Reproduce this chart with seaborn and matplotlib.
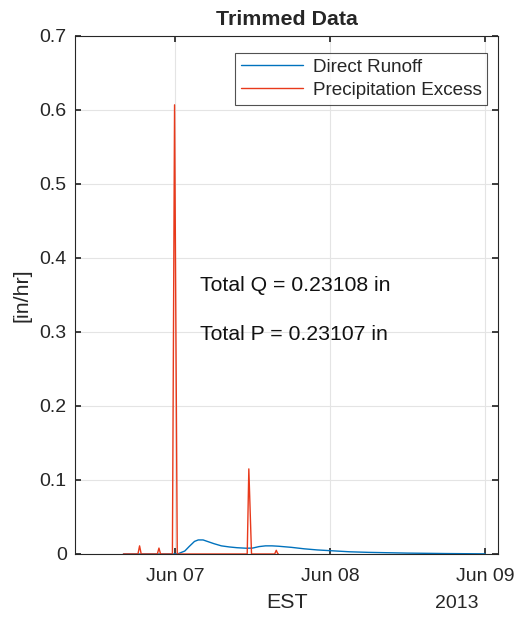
import pandas as pd
import matplotlib
matplotlib.use("Agg")
import matplotlib.pyplot as plt
import matplotlib.dates as mdates
import seaborn as sns

# Direct runoff (in/hr)
runoff_times = [
    "2013-06-06 16:00", "2013-06-06 23:59", "2013-06-07 00:30", "2013-06-07 01:30",
    "2013-06-07 02:10", "2013-06-07 03:00", "2013-06-07 03:35", "2013-06-07 04:20",
    "2013-06-07 05:00", "2013-06-07 06:00", "2013-06-07 07:10", "2013-06-07 08:25",
    "2013-06-07 09:35", "2013-06-07 11:00", "2013-06-07 12:00", "2013-06-07 13:00",
    "2013-06-07 14:00", "2013-06-07 15:00", "2013-06-07 16:00", "2013-06-07 18:00",
    "2013-06-07 20:00", "2013-06-07 22:00", "2013-06-08 00:00", "2013-06-08 03:00",
    "2013-06-08 06:00", "2013-06-08 12:00", "2013-06-08 18:00", "2013-06-09 00:00",
]
runoff_vals = [
    0.0, 0.0, 0.0005, 0.004,
    0.010, 0.017, 0.019, 0.019,
    0.017, 0.014, 0.011, 0.0095,
    0.0085, 0.0078, 0.008, 0.010,
    0.011, 0.011, 0.0105, 0.009,
    0.007, 0.0055, 0.0045, 0.003,
    0.0022, 0.0012, 0.0006, 0.0002,
]

# Precipitation excess (in/hr)
precip_times = [
    "2013-06-06 16:00", "2013-06-06 18:15", "2013-06-06 18:30", "2013-06-06 18:45",
    "2013-06-06 21:15", "2013-06-06 21:30", "2013-06-06 21:45", "2013-06-06 23:35",
    "2013-06-06 23:55", "2013-06-07 00:20", "2013-06-07 11:10", "2013-06-07 11:25",
    "2013-06-07 11:50", "2013-06-07 15:25", "2013-06-07 15:40", "2013-06-07 15:55",
    "2013-06-07 16:00",
]
precip_vals = [
    0.0, 0.0, 0.011, 0.0,
    0.0, 0.008, 0.0, 0.0,
    0.607, 0.0, 0.0, 0.115,
    0.0, 0.0, 0.005, 0.0,
    0.0,
]

total_q = "Total Q = 0.23108 in"
total_p = "Total P = 0.23107 in"

runoff = pd.DataFrame({"time": pd.to_datetime(runoff_times), "value": runoff_vals})
precip = pd.DataFrame({"time": pd.to_datetime(precip_times), "value": precip_vals})

sns.set_theme(style="ticks")
plt.rcParams["font.family"] = ["Liberation Sans", "DejaVu Sans"]

fig = plt.figure(figsize=(5.32, 6.17), dpi=100)
# axes box: x 75..498 px, y 36..554 px
ax = fig.add_axes([75 / 532, 1 - 554 / 617, 423 / 532, 518 / 617])

sns.lineplot(data=runoff, x="time", y="value", ax=ax, color="#0072BD",
             linewidth=1.0, label="Direct Runoff")
sns.lineplot(data=precip, x="time", y="value", ax=ax, color="#E8391B",
             linewidth=1.0, label="Precipitation Excess")

ax.set_xlim(pd.Timestamp("2013-06-06 08:30"), pd.Timestamp("2013-06-09 02:00"))
ax.set_ylim(0, 0.7)
ax.set_xticks(pd.to_datetime(["2013-06-07", "2013-06-08", "2013-06-09"]))
ax.xaxis.set_major_formatter(mdates.DateFormatter("%b %d"))
ax.set_yticks([0, 0.1, 0.2, 0.3, 0.4, 0.5, 0.6, 0.7])
ax.set_yticklabels(["0", "0.1", "0.2", "0.3", "0.4", "0.5", "0.6", "0.7"])
ax.tick_params(direction="in", length=4, labelsize=14, colors="#262626",
               top=True, right=True)
ax.tick_params(axis="x", pad=10)
ax.tick_params(axis="y", pad=6)
ax.grid(True, color="#e4e4e4", linewidth=0.8)
for s in ax.spines.values():
    s.set_color("#262626")
    s.set_linewidth(0.8)

ax.set_xlabel("")
ax.set_ylabel("[in/hr]", fontsize=15.4, color="#262626", labelpad=6)
ax.set_title("Trimmed Data", fontsize=15.4, fontweight="bold", pad=8)

ax.text(pd.Timestamp("2013-06-07 03:50"), 0.3635, total_q, fontsize=15.3,
        va="center", ha="left", color="#111111")
ax.text(pd.Timestamp("2013-06-07 03:50"), 0.296, total_p, fontsize=15.3,
        va="center", ha="left", color="#111111")

fig.text(287 / 532, 1 - 603 / 617, "EST", fontsize=15.4, ha="center",
         va="center", color="#262626")
fig.text(457 / 532, 1 - 603 / 617, "2013", fontsize=14, ha="center",
         va="center", color="#262626")

leg = ax.legend(loc="upper right", bbox_to_anchor=(0.975, 0.967), fontsize=13.6,
                frameon=True, fancybox=False, edgecolor="#262626",
                handlelength=3.3, borderaxespad=0.0, labelspacing=0.3,
                handletextpad=0.5, borderpad=0.3)
leg.get_frame().set_linewidth(0.8)

fig.savefig("out.png", dpi=100)
